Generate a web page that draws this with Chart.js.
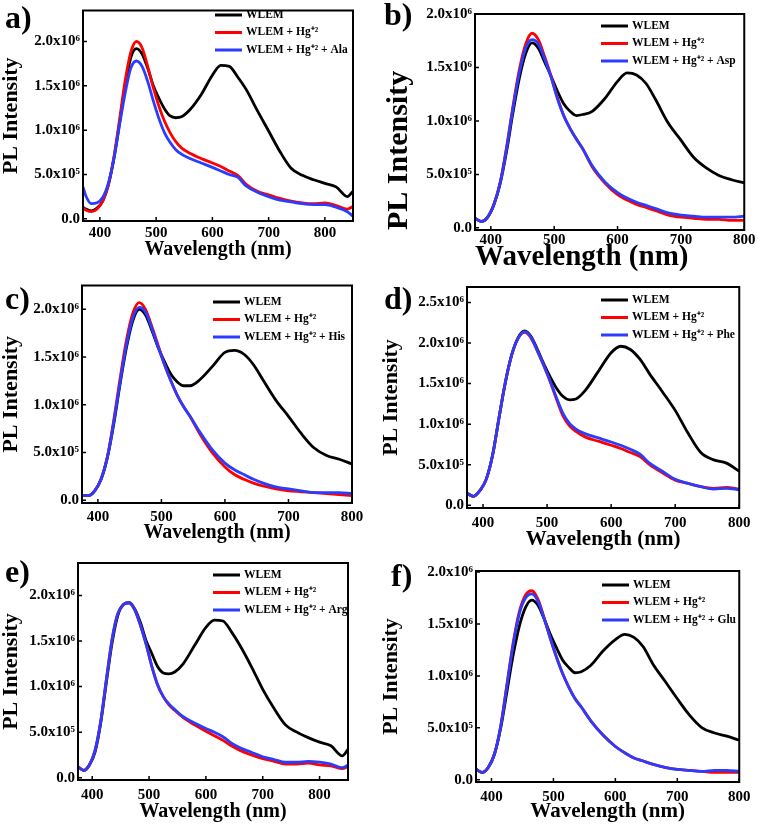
<!DOCTYPE html>
<html>
<head>
<meta charset="utf-8">
<script src="https://cdn.jsdelivr.net/npm/chart.js@4/dist/chart.umd.min.js"></script>
<style>
  body { margin: 0; background: #fff; }
  #fig { position: relative; width: 758px; height: 824px; overflow: hidden; }
  #fig canvas { position: absolute; }
</style>
</head>
<body>
<div id="fig">
  <canvas id="pa"></canvas>
  <canvas id="pb"></canvas>
  <canvas id="pc"></canvas>
  <canvas id="pd"></canvas>
  <canvas id="pe"></canvas>
  <canvas id="pf"></canvas>
</div>
<script>
// wavelengths (nm) the curves are read at
const waveA = [370, 375, 385, 395, 405, 415, 425, 435, 445, 455, 465, 475, 485, 495, 505, 515, 525, 535, 545, 560, 580, 600, 615, 630, 645, 660, 680, 700, 720, 740, 760, 780, 800, 820, 840, 850];
const waveE = [375, 385, 395, 405, 415, 425, 435, 445, 455, 465, 475, 485, 495, 505, 515, 525, 535, 545, 560, 580, 600, 615, 630, 645, 660, 680, 700, 720, 740, 760, 780, 800, 820, 840, 850];
const waveShort = [375, 385, 395, 405, 415, 425, 435, 445, 455, 465, 475, 485, 495, 505, 515, 525, 535, 545, 560, 580, 600, 615, 630, 645, 660, 680, 700, 720, 740, 760, 780, 800];

// PL intensity in units of 10^6
// a) Ala
const alaWlem = [0.13, 0.11, 0.09, 0.12, 0.2, 0.38, 0.68, 1.08, 1.5, 1.82, 1.92, 1.86, 1.7, 1.5, 1.36, 1.24, 1.16, 1.14, 1.15, 1.23, 1.4, 1.62, 1.73, 1.72, 1.6, 1.46, 1.22, 0.99, 0.76, 0.57, 0.49, 0.44, 0.40, 0.36, 0.25, 0.31];
const alaHg   = [0.12, 0.1, 0.08, 0.11, 0.2, 0.38, 0.7, 1.12, 1.56, 1.88, 2.0, 1.93, 1.72, 1.48, 1.27, 1.1, 0.97, 0.87, 0.8, 0.74, 0.68, 0.63, 0.59, 0.54, 0.49, 0.39, 0.31, 0.27, 0.23, 0.2, 0.18, 0.17, 0.18, 0.15, 0.11, 0.14];
const alaAmino = [0.36, 0.26, 0.17, 0.18, 0.24, 0.4, 0.68, 1.06, 1.42, 1.7, 1.78, 1.72, 1.55, 1.33, 1.13, 0.97, 0.86, 0.78, 0.73, 0.68, 0.63, 0.58, 0.54, 0.5, 0.47, 0.37, 0.3, 0.25, 0.21, 0.19, 0.17, 0.16, 0.16, 0.13, 0.08, 0.03];
// b) Asp
const aspWlem = [0.09, 0.06, 0.1, 0.22, 0.42, 0.72, 1.08, 1.4, 1.63, 1.73, 1.68, 1.55, 1.42, 1.28, 1.16, 1.09, 1.05, 1.06, 1.09, 1.21, 1.37, 1.45, 1.43, 1.35, 1.2, 0.98, 0.82, 0.66, 0.56, 0.49, 0.45, 0.42];
const aspHg   = [0.09, 0.06, 0.1, 0.22, 0.43, 0.76, 1.14, 1.48, 1.72, 1.82, 1.76, 1.6, 1.42, 1.22, 1.05, 0.93, 0.83, 0.74, 0.57, 0.42, 0.31, 0.26, 0.22, 0.19, 0.16, 0.12, 0.1, 0.09, 0.08, 0.08, 0.07, 0.07];
const aspAmino = [0.09, 0.06, 0.1, 0.22, 0.43, 0.75, 1.12, 1.45, 1.68, 1.76, 1.72, 1.58, 1.41, 1.21, 1.05, 0.93, 0.83, 0.74, 0.58, 0.43, 0.33, 0.28, 0.24, 0.21, 0.18, 0.14, 0.12, 0.11, 0.1, 0.1, 0.1, 0.11];
// c) His
const hisWlem = [0.05, 0.05, 0.1, 0.22, 0.45, 0.8, 1.22, 1.6, 1.88, 2.0, 1.94, 1.78, 1.6, 1.45, 1.32, 1.24, 1.2, 1.2, 1.26, 1.4, 1.55, 1.57, 1.53, 1.42, 1.26, 1.05, 0.88, 0.7, 0.55, 0.47, 0.43, 0.38];
const hisHg   = [0.05, 0.05, 0.1, 0.22, 0.46, 0.84, 1.28, 1.68, 1.96, 2.07, 2.0, 1.82, 1.62, 1.42, 1.25, 1.1, 0.98, 0.88, 0.7, 0.5, 0.35, 0.27, 0.22, 0.18, 0.15, 0.12, 0.1, 0.09, 0.08, 0.07, 0.06, 0.05];
const hisAmino = [0.05, 0.05, 0.1, 0.22, 0.45, 0.82, 1.24, 1.63, 1.91, 2.02, 1.97, 1.8, 1.6, 1.42, 1.25, 1.1, 0.98, 0.88, 0.72, 0.53, 0.39, 0.32, 0.27, 0.22, 0.18, 0.14, 0.12, 0.1, 0.08, 0.08, 0.08, 0.07];
// d) Phe
const pheWlem = [0.15, 0.11, 0.18, 0.32, 0.62, 1.08, 1.52, 1.86, 2.07, 2.15, 2.08, 1.92, 1.74, 1.58, 1.44, 1.34, 1.3, 1.31, 1.42, 1.65, 1.88, 1.96, 1.92, 1.8, 1.62, 1.4, 1.17, 0.89, 0.65, 0.56, 0.52, 0.42];
const pheHg   = [0.15, 0.11, 0.18, 0.32, 0.62, 1.08, 1.52, 1.86, 2.06, 2.13, 2.06, 1.9, 1.72, 1.52, 1.3, 1.1, 0.98, 0.91, 0.84, 0.79, 0.74, 0.7, 0.65, 0.6, 0.5, 0.4, 0.31, 0.27, 0.23, 0.21, 0.22, 0.2];
const pheAmino = [0.15, 0.11, 0.18, 0.32, 0.62, 1.08, 1.52, 1.86, 2.06, 2.14, 2.07, 1.9, 1.72, 1.53, 1.32, 1.13, 1.01, 0.94, 0.88, 0.83, 0.78, 0.74, 0.69, 0.63, 0.52, 0.42, 0.32, 0.27, 0.23, 0.2, 0.21, 0.19];
// e) Arg
const argWlem = [0.12, 0.08, 0.14, 0.28, 0.6, 1.05, 1.48, 1.78, 1.9, 1.92, 1.85, 1.7, 1.5, 1.36, 1.22, 1.15, 1.14, 1.16, 1.25, 1.45, 1.65, 1.73, 1.72, 1.6, 1.45, 1.22, 0.97, 0.76, 0.58, 0.5, 0.44, 0.39, 0.35, 0.24, 0.31];
const argHg   = [0.12, 0.08, 0.14, 0.3, 0.62, 1.08, 1.52, 1.8, 1.9, 1.92, 1.84, 1.67, 1.46, 1.22, 1.02, 0.89, 0.8, 0.74, 0.66, 0.58, 0.51, 0.46, 0.41, 0.35, 0.3, 0.25, 0.21, 0.18, 0.15, 0.15, 0.16, 0.14, 0.13, 0.1, 0.12];
const argAmino = [0.12, 0.08, 0.14, 0.3, 0.62, 1.08, 1.52, 1.8, 1.9, 1.92, 1.84, 1.67, 1.46, 1.22, 1.02, 0.89, 0.81, 0.75, 0.67, 0.6, 0.54, 0.5, 0.45, 0.38, 0.33, 0.28, 0.23, 0.2, 0.17, 0.17, 0.18, 0.17, 0.15, 0.11, 0.14];
// f) Glu
const gluWlem = [0.1, 0.07, 0.12, 0.25, 0.5, 0.85, 1.2, 1.48, 1.66, 1.73, 1.68, 1.55, 1.4, 1.27, 1.15, 1.08, 1.03, 1.04, 1.1, 1.24, 1.35, 1.4, 1.37, 1.28, 1.12, 0.95, 0.78, 0.62, 0.5, 0.45, 0.42, 0.38];
const gluHg   = [0.1, 0.07, 0.12, 0.25, 0.52, 0.92, 1.32, 1.62, 1.78, 1.82, 1.74, 1.56, 1.36, 1.18, 1.02, 0.89, 0.78, 0.7, 0.57, 0.43, 0.32, 0.26, 0.21, 0.18, 0.15, 0.12, 0.1, 0.09, 0.08, 0.07, 0.07, 0.07];
const gluAmino = [0.1, 0.07, 0.12, 0.25, 0.52, 0.91, 1.3, 1.6, 1.75, 1.79, 1.72, 1.55, 1.36, 1.18, 1.02, 0.89, 0.78, 0.7, 0.57, 0.43, 0.32, 0.26, 0.21, 0.18, 0.15, 0.12, 0.1, 0.09, 0.08, 0.09, 0.09, 0.08];

const seriesNames = ['WLEM', 'WLEM + Hg\u207A\u00B2'];
const xTickValues = [400, 500, 600, 700, 800];
const yTicks2 = [0, 0.5, 1, 1.5, 2];
const yTicks25 = [0, 0.5, 1, 1.5, 2, 2.5];

const lineColors = ['#000000', '#ff0000', '#2a3cff'];
const FONT = "'Liberation Serif', 'Times New Roman', serif";

// layout of each panel (canvas spot, plot box, text spots) in pixels
const panels = [
  { id: 'pa', letter: 'a)', acid: 'Ala', wave: waveA, vals: [alaWlem, alaHg, alaAmino], xMin: 370, xMax: 850, yMin: -0.025, yMax: 2.35, yTicks: yTicks2,
    pos: [0, 0], h: 285, area: [83, 353, 3, 221], xPad: 4.5, xTitleY: 250, xTitleSize: 20, xTitleAlign: 'center',
    yTitleX: 11, yTitleSize: 22, yTitleAlign: 'center', legend: [215, 15], letterAt: [5, 20] },
  { id: 'pb', letter: 'b)', acid: 'Asp', wave: waveShort, vals: [aspWlem, aspHg, aspAmino], xMin: 375, xMax: 800, yMin: -0.02, yMax: 2.0, yTicks: yTicks2,
    pos: [379, 0], h: 285, area: [96, 366, 14, 230], xPad: 2.5, xTitleY: 258, xTitleSize: 29, xTitleAlign: 'start',
    yTitleX: 20, yTitleSize: 30, yTitleAlign: 'start', legend: [222, 26], letterAt: [5, 17] },
  { id: 'pc', letter: 'c)', acid: 'His', wave: waveShort, vals: [hisWlem, hisHg, hisAmino], xMin: 375, xMax: 800, yMin: -0.028, yMax: 2.25, yTicks: yTicks2,
    pos: [0, 275], h: 285, area: [82, 352, 10, 228], xPad: 6.5, xTitleY: 258, xTitleSize: 20, xTitleAlign: 'center',
    yTitleX: 11, yTitleSize: 22, yTitleAlign: 'center', legend: [213, 27], letterAt: [5, 26] },
  { id: 'pd', letter: 'd)', acid: 'Phe', wave: waveShort, vals: [pheWlem, pheHg, pheAmino], xMin: 375, xMax: 800, yMin: -0.033, yMax: 2.69, yTicks: yTicks25,
    pos: [379, 275], h: 285, area: [88, 366, 12, 233], xPad: 7.5, xTitleY: 265, xTitleSize: 21, xTitleAlign: 'center',
    yTitleX: 12, yTitleSize: 22, yTitleAlign: 'center', legend: [222, 25], letterAt: [5, 26] },
  { id: 'pe', letter: 'e)', acid: 'Arg', wave: waveE, vals: [argWlem, argHg, argAmino], xMin: 375, xMax: 850, yMin: -0.025, yMax: 2.356, yTicks: yTicks2,
    pos: [0, 550], h: 274, area: [78, 348, 13, 230], xPad: 7.5, xTitleY: 262, xTitleSize: 20, xTitleAlign: 'center',
    yTitleX: 11, yTitleSize: 22, yTitleAlign: 'center', legend: [213, 25], letterAt: [5, 24] },
  { id: 'pf', letter: 'f)', acid: 'Glu', wave: waveShort, vals: [gluWlem, gluHg, gluAmino], xMin: 375, xMax: 800, yMin: -0.022, yMax: 2.01, yTicks: yTicks2,
    pos: [379, 550], h: 274, area: [97, 363, 21, 232], xPad: 7.5, xTitleY: 262, xTitleSize: 21, xTitleAlign: 'center',
    yTitleX: 12, yTitleSize: 22, yTitleAlign: 'center', legend: [223, 35], letterAt: [12, 28] }
];

function yTickLabel(v) {
  if (v === 0) return '0.0';
  if (v < 1) return (v * 10).toFixed(1) + 'x10\u2075';
  return v.toFixed(1) + 'x10\u2076';
}

// frame, inward ticks, in-plot legend and panel letter
const panelDecor = {
  id: 'panelDecor',
  afterDatasetsDraw(chart, args, opts) {
    const { ctx, chartArea: a, scales: { x, y } } = chart;
    ctx.save();
    ctx.strokeStyle = '#000';
    ctx.lineWidth = 2;
    ctx.strokeRect(a.left, a.top, a.right - a.left, a.bottom - a.top);

    ctx.lineWidth = 1.5;
    ctx.beginPath();
    x.ticks.forEach(t => {
      const px = x.getPixelForValue(t.value);
      ctx.moveTo(px, a.bottom);
      ctx.lineTo(px, a.bottom - 4);
    });
    y.ticks.forEach(t => {
      const py = y.getPixelForValue(t.value);
      ctx.moveTo(a.left, py);
      ctx.lineTo(a.left + 4, py);
    });
    ctx.stroke();

    ctx.font = 'bold 11.5px ' + FONT;
    ctx.textAlign = 'left';
    ctx.textBaseline = 'middle';
    chart.data.datasets.forEach((ds, i) => {
      const ly = opts.legendY + i * 17.5;
      ctx.strokeStyle = ds.borderColor;
      ctx.lineWidth = 3;
      ctx.beginPath();
      ctx.moveTo(opts.legendX, ly);
      ctx.lineTo(opts.legendX + 27, ly);
      ctx.stroke();
      ctx.fillStyle = '#000';
      ctx.fillText(ds.label, opts.legendX + 31, ly);
    });

    ctx.font = 'bold 32px ' + FONT;
    ctx.fillText(opts.letter, opts.letterX, opts.letterY);
    ctx.restore();
  }
};

const W = 379;

panels.forEach(p => {
  const canvas = document.getElementById(p.id);
  canvas.width = W;
  canvas.height = p.h;
  canvas.style.left = p.pos[0] + 'px';
  canvas.style.top = p.pos[1] + 'px';

  const [L, R, T, B] = p.area;
  const names = [seriesNames[0], seriesNames[1], seriesNames[1] + ' + ' + p.acid];

  const datasets = p.vals.map((vals, i) => ({
    label: names[i],
    data: p.wave.map((w, k) => ({ x: w, y: vals[k] })),
    borderColor: lineColors[i],
    backgroundColor: lineColors[i],
    borderWidth: 2.8,
    pointRadius: 0,
    fill: false,
    cubicInterpolationMode: 'monotone',
    order: 3 - i
  }));

  new Chart(canvas.getContext('2d'), {
    type: 'line',
    data: { datasets: datasets },
    options: {
      responsive: false,
      animation: false,
      events: [],
      layout: { padding: { left: 0, top: T, right: W - R, bottom: 0 } },
      scales: {
        x: {
          type: 'linear',
          min: p.xMin,
          max: p.xMax,
          afterBuildTicks: s => { s.ticks = xTickValues.map(v => ({ value: v })); },
          afterFit: s => { s.height = p.h - B; },
          grid: { display: false, drawTicks: false },
          border: { display: false },
          ticks: {
            autoSkip: false,
            maxRotation: 0,
            padding: p.xPad,
            color: '#000',
            font: { family: FONT, size: 15, weight: 'bold', lineHeight: 1 },
            callback: v => String(v)
          },
          title: {
            display: true,
            text: 'Wavelength (nm)',
            align: p.xTitleAlign,
            color: '#000',
            font: { family: FONT, size: p.xTitleSize, weight: 'bold', lineHeight: 1 },
            padding: { top: 0, bottom: p.h - p.xTitleY - p.xTitleSize / 2 }
          }
        },
        y: {
          type: 'linear',
          min: p.yMin,
          max: p.yMax,
          afterBuildTicks: s => { s.ticks = p.yTicks.map(v => ({ value: v })); },
          afterFit: s => { s.width = L; },
          grid: { display: false, drawTicks: false },
          border: { display: false },
          ticks: {
            autoSkip: false,
            padding: 3,
            color: '#000',
            font: { family: FONT, size: 15, weight: 'bold', lineHeight: 1 },
            callback: v => yTickLabel(v)
          },
          title: {
            display: true,
            text: 'PL Intensity',
            align: p.yTitleAlign,
            color: '#000',
            font: { family: FONT, size: p.yTitleSize, weight: 'bold', lineHeight: 1 },
            padding: { top: p.yTitleX - p.yTitleSize / 2, bottom: 0 }
          }
        }
      },
      plugins: {
        legend: { display: false },
        tooltip: { enabled: false },
        panelDecor: {
          legendX: p.legend[0],
          legendY: p.legend[1],
          letter: p.letter,
          letterX: p.letterAt[0],
          letterY: p.letterAt[1]
        }
      }
    },
    plugins: [panelDecor]
  });
});
</script>
</body>
</html>
